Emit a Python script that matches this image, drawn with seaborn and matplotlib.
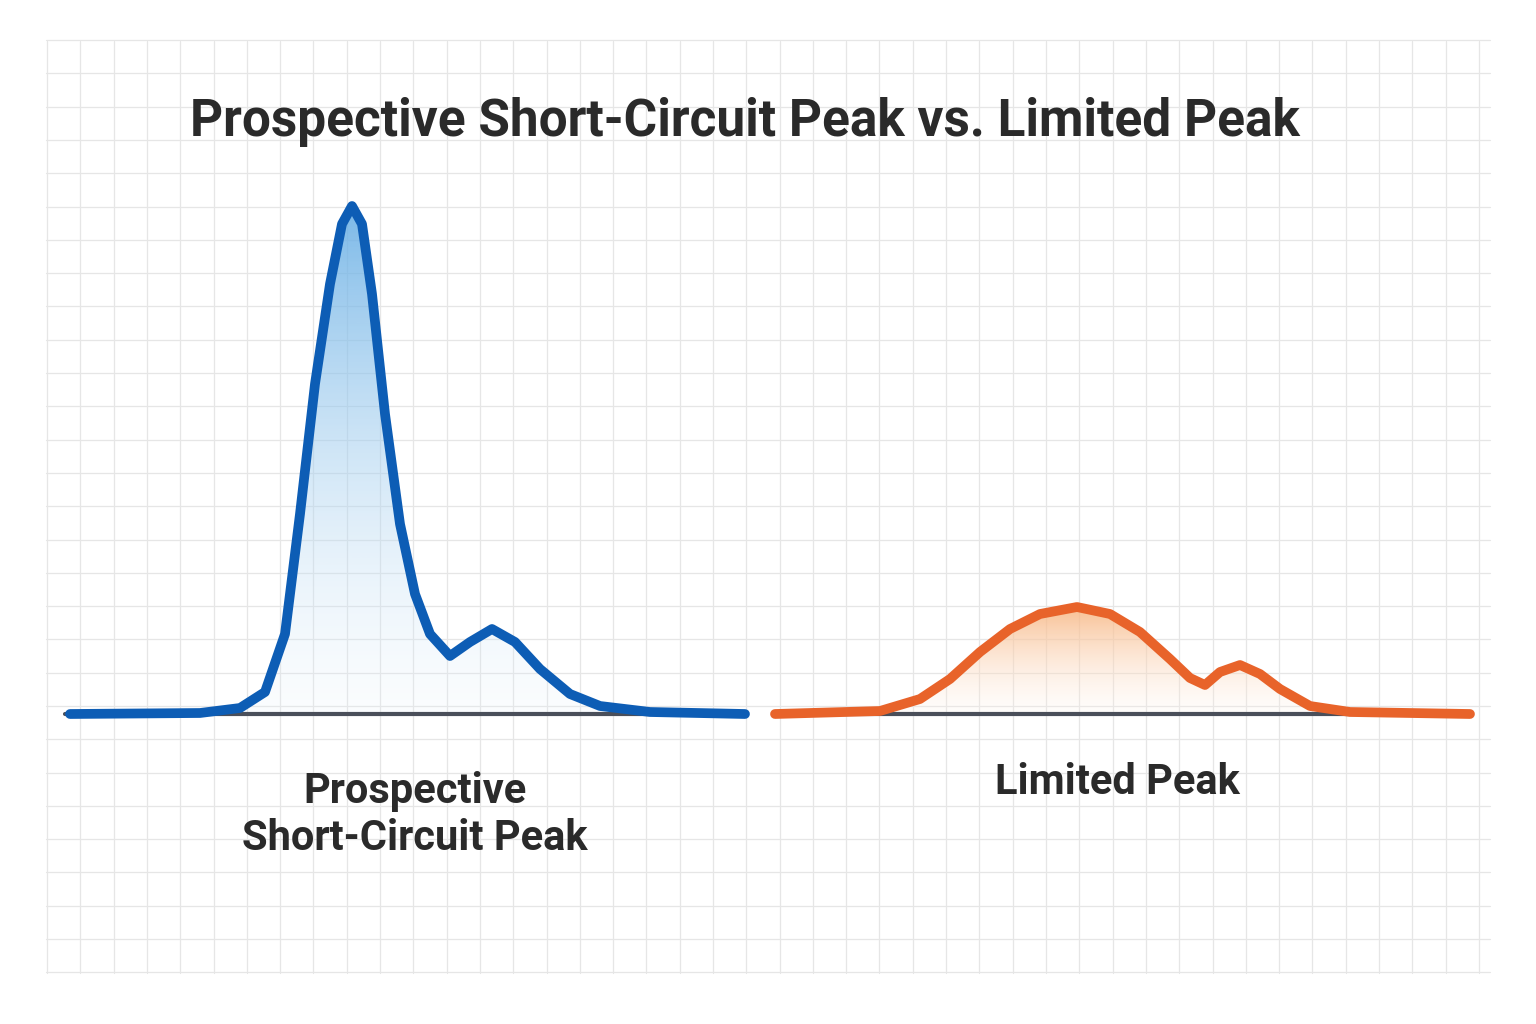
import numpy as np
import pandas as pd
import matplotlib
matplotlib.use("Agg")
import matplotlib.pyplot as plt
import seaborn as sns

sns.set_theme(style="white")
plt.rcParams['font.family'] = ['Roboto', 'DejaVu Sans']

title = "Prospective Short-Circuit Peak vs. Limited Peak"
label_left = "Prospective\nShort-Circuit Peak"
label_right = "Limited Peak"

left_x = [70, 200, 240, 265, 285, 300, 315, 330, 342, 352, 362, 372, 385, 400, 415, 430, 450, 470, 492, 515, 540, 570, 600, 650, 745]
left_h = [0, 1, 6, 22, 80, 200, 330, 430, 490, 508, 490, 420, 300, 190, 120, 80, 58, 72, 85, 72, 45, 20, 8, 2, 0]
right_x = [775, 880, 920, 950, 980, 1010, 1040, 1077, 1110, 1140, 1170, 1190, 1205, 1220, 1240, 1260, 1280, 1310, 1350, 1470]
right_h = [0, 3, 15, 35, 62, 85, 100, 107, 100, 82, 55, 36, 29, 42, 49, 40, 25, 8, 2, 0]

BASE = 714
fig = plt.figure(figsize=(15.36, 10.24), dpi=100)
ax = fig.add_axes([0, 0, 1, 1])
ax.set_xlim(0, 1536); ax.set_ylim(1024, 0)
ax.axis("off")

for gx in np.arange(47, 1500, 33.3):
    ax.axvline(gx, ymin=0.05, ymax=0.96, color="#e6e6e6", lw=0.9, zorder=0)
for gy in np.arange(40, 990, 33.3):
    ax.axhline(gy, xmin=0.03, xmax=0.97, color="#e6e6e6", lw=0.9, zorder=0)

def curve(xs, hs, line_c, fill_c):
    df = pd.DataFrame({"x": xs, "y": [BASE - h for h in hs]})
    poly = ax.fill_between(df.x, df.y, BASE, color="none", zorder=2)
    grad = np.linspace(0.85, 0.15, 256).reshape(-1, 1)
    cmap = matplotlib.colors.LinearSegmentedColormap.from_list("g", [(1, 1, 1, 0), fill_c])
    top = df.y.min()
    im = ax.imshow(grad, extent=[min(xs), max(xs), BASE, top], cmap=cmap, vmin=0, vmax=1,
                   aspect="auto", zorder=2, origin="upper")
    im.set_clip_path(poly.get_paths()[0], transform=ax.transData)
    sns.lineplot(data=df, x="x", y="y", ax=ax, color=line_c, lw=7, sort=False, zorder=4,
                 solid_capstyle="round", solid_joinstyle="round")

ax.plot([65, 745], [BASE, BASE], color="#4a4f5a", lw=3, zorder=3)
ax.plot([775, 1470], [BASE, BASE], color="#4a4f5a", lw=3, zorder=3)
curve(left_x, left_h, "#0d5db5", "#4a9fe0")
curve(right_x, right_h, "#e8632a", "#f7a86a")
ax.set_xlim(0, 1536); ax.set_ylim(1024, 0)
ax.axis("off")

ax.text(745, 122, title, ha="center", va="center", fontsize=37, fontweight="bold", color="#2a2a2a")
ax.text(415, 815, label_left, ha="center", va="center", fontsize=30, fontweight="bold",
        color="#2a2a2a", linespacing=1.2)
ax.text(1117, 782, label_right, ha="center", va="center", fontsize=30, fontweight="bold", color="#2a2a2a")

fig.savefig("out.png", dpi=100, facecolor="white")
